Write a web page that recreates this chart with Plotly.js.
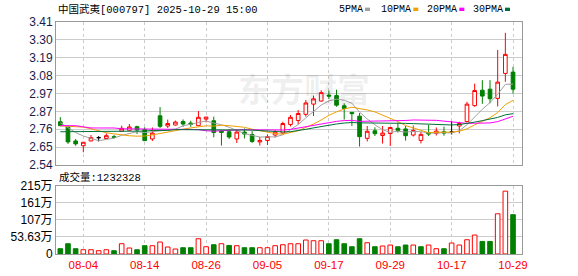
<!DOCTYPE html>
<html><head><meta charset="utf-8">
<script src="https://cdn.plot.ly/plotly-3.0.1.min.js"></script>
<style>html,body{margin:0;padding:0;background:#fff;}#chart{width:578px;height:276px;}</style>
</head><body><div id="chart"></div>
<script>
// ---- data ----
const dates = ['07-30','07-31','08-01','08-04','08-05','08-06','08-07','08-08','08-11','08-12','08-13','08-14','08-15','08-18','08-19','08-20','08-21','08-22','08-25','08-26','08-27','08-28','08-29','09-01','09-02','09-03','09-04','09-05','09-08','09-09','09-10','09-11','09-12','09-15','09-16','09-17','09-18','09-19','09-22','09-23','09-24','09-25','09-26','09-29','09-30','10-09','10-10','10-13','10-14','10-15','10-16','10-17','10-20','10-21','10-22','10-23','10-24','10-27','10-28','10-29'];
const openP  = [2.803,2.771,2.686,2.657,2.686,2.706,2.701,2.712,2.746,2.751,2.773,2.755,2.698,2.839,2.777,2.783,2.804,2.795,2.779,2.819,2.809,2.746,2.742,2.698,2.740,2.725,2.680,2.689,2.722,2.734,2.786,2.810,2.848,2.910,2.929,2.965,2.962,2.900,2.860,2.837,2.702,2.748,2.719,2.731,2.763,2.759,2.722,2.689,2.737,2.732,2.742,2.740,2.777,2.804,2.901,2.995,3.001,2.945,3.097,3.105];
const highP  = [2.831,2.776,2.698,2.680,2.722,2.716,2.732,2.722,2.779,2.789,2.779,2.769,2.768,2.892,2.816,2.810,2.817,2.809,2.868,2.833,2.834,2.748,2.757,2.755,2.762,2.746,2.710,2.726,2.752,2.803,2.844,2.874,2.935,2.962,2.995,2.992,2.998,2.915,2.862,2.856,2.777,2.769,2.777,2.772,2.798,2.777,2.780,2.740,2.783,2.768,2.773,2.807,2.803,2.924,3.035,3.056,3.056,3.240,3.344,3.137];
const lowP   = [2.776,2.668,2.657,2.617,2.684,2.683,2.699,2.700,2.744,2.749,2.728,2.685,2.686,2.765,2.765,2.780,2.772,2.772,2.777,2.799,2.708,2.658,2.698,2.674,2.701,2.674,2.658,2.661,2.707,2.730,2.774,2.787,2.834,2.838,2.925,2.941,2.894,2.816,2.777,2.652,2.683,2.716,2.670,2.655,2.737,2.688,2.713,2.671,2.716,2.719,2.718,2.725,2.732,2.799,2.894,2.912,2.915,2.896,3.046,2.975];
const closeP = [2.779,2.680,2.668,2.678,2.706,2.706,2.718,2.708,2.763,2.771,2.753,2.688,2.734,2.775,2.792,2.801,2.789,2.787,2.830,2.831,2.737,2.738,2.710,2.740,2.728,2.683,2.689,2.713,2.740,2.792,2.830,2.853,2.917,2.942,2.980,2.959,2.904,2.884,2.852,2.712,2.745,2.730,2.734,2.768,2.750,2.718,2.750,2.726,2.728,2.746,2.734,2.740,2.792,2.910,2.993,2.959,2.943,3.044,3.213,3.001];
// volume in 万手
const volume = [16.6,32.2,16.6,13.4,13.4,10.3,13.4,10.3,32.2,18.8,13.4,26.0,26.0,37.5,21.9,15.6,19.7,19.7,47.8,22.8,29.1,32.2,26.9,26.0,19.7,19.7,19.7,19.7,26.0,29.1,32.2,32.2,43.8,41.6,41.6,32.2,44.7,32.2,22.8,47.8,35.3,22.8,25.0,28.1,22.8,28.1,28.1,22.8,28.1,16.6,16.6,34.4,28.1,44.7,59.4,39.4,39.4,126.0,197.0,123.2328];
// moving-average values before each window is full
const ma5Head  = [2.797,2.765,2.737,2.716];
const ma10Head = [2.778,2.776,2.774,2.770,2.760,2.747,2.736,2.729,2.722];
const ma20Head = [2.779,2.779,2.779,2.772,2.765,2.765,2.765,2.765,2.760,2.760,2.760,2.760,2.760,2.756,2.756,2.756,2.756,2.756,2.755];
const ma30Head = [2.742,2.742,2.742,2.742,2.742,2.742,2.742,2.742,2.746,2.746,2.746,2.746,2.750,2.750,2.750,2.755,2.755,2.755,2.755,2.755,2.755,2.755,2.755,2.755,2.755,2.752,2.749,2.746,2.744];
const priceTickVals = [2.54,2.64875,2.7575,2.86625,2.975,3.08375,3.1925,3.30125,3.41];
const priceTickText = ['2.54','2.65','2.76','2.87','2.97','3.08','3.19','3.30','3.41'];
const volTickVals = [0,53.63,107.25,160.88,214.5];
const volTickText = ['0','53.63万','107万','161万','215万'];
const xTickDates = ['08-04','08-14','08-26','09-05','09-17','09-29','10-17','10-29'];
const stockTitle = '中国武夷[000797] 2025-10-29 15:00';
const maNames = ['5PMA','10PMA','20PMA','30PMA'];

// ---- derived ----
const idx = dates.map((d,i)=>i);
function ma(n, head){
  return closeP.map((c,i)=>{
    if(i < n-1) return head[i];
    let s=0; for(let k=i-n+1;k<=i;k++) s+=closeP[k];
    return s/n;
  });
}
const maSeries = [ma(5,ma5Head), ma(10,ma10Head), ma(20,ma20Head), ma(30,ma30Head)];
const maColors = ['#a0a0a0','#f0a000','#ff00ff','#00703a'];
const RED='#ff0000', GREEN='#008000';
const normal = idx.filter(i=>openP[i]!==closeP[i]);
const doji = idx.filter(i=>openP[i]===closeP[i]);
const pick=(arr,ids)=>ids.map(i=>arr[i]);
const volUp = idx.map(i=> i===0 ? closeP[0]>=openP[0] : closeP[i]>=closeP[i-1]);
const tickVals = xTickDates.map(d=>dates.indexOf(d));

// pixel helpers for decorations
const L=56, R=522, T=21.7, B=254.3;
const px = x => (x-L)/(R-L);
const py = y => (B-y)/(B-T);

const traces = [];
maSeries.forEach((s,k)=>traces.push({type:'scatter',mode:'lines',x:idx,y:s,xaxis:'x',yaxis:'y',
  line:{color:maColors[k],width:1},hoverinfo:'skip'}));
traces.push({type:'candlestick',x:pick(idx,normal),open:pick(openP,normal),high:pick(highP,normal),
  low:pick(lowP,normal),close:pick(closeP,normal),xaxis:'x',yaxis:'y',whiskerwidth:0,
  increasing:{line:{color:RED,width:1},fillcolor:'#ffffff'},
  decreasing:{line:{color:GREEN,width:1},fillcolor:GREEN},hoverinfo:'skip'});
traces.push({type:'candlestick',x:pick(idx,doji),open:pick(openP,doji),high:pick(highP,doji),
  low:pick(lowP,doji),close:pick(closeP,doji),xaxis:'x',yaxis:'y',whiskerwidth:0,
  increasing:{line:{color:'#000000',width:1},fillcolor:'#000000'},
  decreasing:{line:{color:'#000000',width:1},fillcolor:'#000000'},hoverinfo:'skip'});
traces.push({type:'bar',x:idx,y:volume,xaxis:'x2',yaxis:'y2',
  marker:{color:volUp.map(u=>u?'#ffffff':GREEN),line:{color:volUp.map(u=>u?RED:GREEN),width:1}},hoverinfo:'skip'});

const axisCommon = {showline:true,linecolor:'#999999',linewidth:1,mirror:true,zeroline:false,ticks:'',fixedrange:true};
const annotations = [
  {text:stockTitle,xref:'paper',yref:'paper',x:px(56),y:py(9),xanchor:'left',yanchor:'middle',showarrow:false,
   font:{family:'Liberation Mono, Noto Sans CJK SC',size:10.5,color:'#000'}},
  {text:'成交量:'+Math.round(volume[volume.length-1]*10000),xref:'paper',yref:'paper',x:px(57),y:py(177.5),xanchor:'left',yanchor:'middle',showarrow:false,
   font:{family:'Liberation Mono, Noto Sans CJK SC',size:10.5,color:'#000'}},
  {text:'东方财富',xref:'paper',yref:'paper',x:px(304),y:py(88),xanchor:'center',yanchor:'middle',showarrow:false,
   font:{family:'Noto Sans CJK SC',size:33,color:'rgba(0,0,0,0.07)',weight:700}}
];
const legendX = [338,380,425.5,471.5];
const sqX = [365,413.3,459.3,505];
const shapes = [];
maNames.forEach((n,k)=>{
  annotations.push({text:n,xref:'paper',yref:'paper',x:px(legendX[k]-1),y:py(9),xanchor:'left',yanchor:'middle',showarrow:false,
    font:{family:'Liberation Mono',size:10,color:'#000'}});
  shapes.push({type:'rect',xref:'paper',yref:'paper',x0:px(sqX[k]),x1:px(sqX[k]+5),y0:py(10.7),y1:py(7.3),
    fillcolor:maColors[k],line:{width:0}});
});

const layout = {
  width:578,height:276,margin:{l:L,r:578-R,t:T,b:276-B,pad:0},
  paper_bgcolor:'#fff',plot_bgcolor:'#fff',showlegend:false,boxgap:0.32,bargap:0.4,
  font:{family:'Liberation Sans, Noto Sans CJK SC',size:12,color:'#000'},
  xaxis:Object.assign({},axisCommon,{anchor:'y',domain:[0,1],range:[-0.56,60.17],tickvals:tickVals,showticklabels:false,
    showgrid:true,gridcolor:'#cccccc',griddash:'3px,3px',rangeslider:{visible:false}}),
  xaxis2:Object.assign({},axisCommon,{anchor:'y2',domain:[0,1],range:[-0.56,60.17],tickvals:tickVals,ticktext:xTickDates,
    showgrid:true,gridcolor:'#cccccc',griddash:'3px,3px',tickfont:{family:'Liberation Sans',size:11.5,color:RED}}),
  yaxis:Object.assign({},axisCommon,{anchor:'x',domain:[py(165),1],range:[2.54,3.41],tickvals:priceTickVals,ticktext:priceTickText,
    showgrid:true,gridcolor:'#cccccc',tickfont:{family:'Liberation Sans',size:12,color:'#1a1a4d'}}),
  yaxis2:Object.assign({},axisCommon,{anchor:'x2',domain:[0,py(185.7)],range:[0,214.5],tickvals:volTickVals,ticktext:volTickText,
    showgrid:true,gridcolor:'#cccccc',tickfont:{family:'Liberation Sans, Noto Sans CJK SC',size:12,color:'#000'}}),
  annotations:annotations,shapes:shapes
};
Plotly.newPlot('chart',traces,layout,{displayModeBar:false,staticPlot:true});
</script></body></html>
